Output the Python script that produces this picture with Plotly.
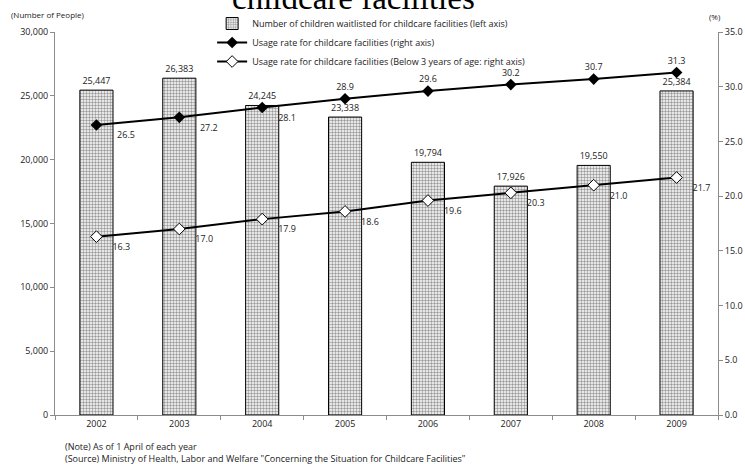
import plotly.graph_objects as go

years = ["2002", "2003", "2004", "2005", "2006", "2007", "2008", "2009"]
waitlisted = [25447, 26383, 24245, 23338, 19794, 17926, 19550, 25384]
usage_rate = [26.5, 27.2, 28.1, 28.9, 29.6, 30.2, 30.7, 31.3]
usage_rate_u3 = [16.3, 17.0, 17.9, 18.6, 19.6, 20.3, 21.0, 21.7]

name_bar = "Number of children waitlisted for childcare facilities (left axis)"
name_rate = "Usage rate for childcare facilities (right axis)"
name_u3 = "Usage rate for childcare facilities (Below 3 years of age: right axis)"

FONT = "Open Sans"
TXT = "#222222"
AX = "#8c8c8c"
NB = "\u00a0"

rate_pos = ["bottom right", "bottom right", "bottom right", "top center",
            "top center", "top center", "top center", "top center"]
rate_pad = [6, 6, 4, 0, 0, 0, 0, 0]

fig = go.Figure()
fig.add_trace(go.Bar(
    x=years, y=waitlisted, name=name_bar, width=0.4,
    marker=dict(color="white", line=dict(color="#000000", width=1),
                pattern=dict(shape=".", fgcolor="#333333", bgcolor="white", size=3, solidity=0.5)),
    text=[f"{v:,}" for v in waitlisted], textposition="outside",
    textfont=dict(family=FONT, size=9, color=TXT), cliponaxis=False,
))
fig.add_trace(go.Scatter(
    x=years, y=usage_rate, name=name_rate, yaxis="y2", mode="lines+markers+text",
    line=dict(color="black", width=2), marker=dict(symbol="diamond", size=9, color="black"),
    text=[NB * p + f"{v:.1f}" for v, p in zip(usage_rate, rate_pad)], textposition=rate_pos,
    textfont=dict(family=FONT, size=9, color=TXT), cliponaxis=False,
))
fig.add_trace(go.Scatter(
    x=years, y=usage_rate_u3, name=name_u3, yaxis="y2", mode="lines+markers+text",
    line=dict(color="black", width=2),
    marker=dict(symbol="diamond", size=9, color="white", line=dict(color="black", width=1)),
    text=[NB * 4 + f"{v:.1f}" for v in usage_rate_u3], textposition="bottom right",
    textfont=dict(family=FONT, size=9, color=TXT), cliponaxis=False,
))

fig.update_layout(
    width=745, height=464,
    margin=dict(l=55, r=27, t=32, b=49, autoexpand=False),
    paper_bgcolor="white", plot_bgcolor="white",
    font=dict(family=FONT, size=9, color=TXT),
    showlegend=True,
    legend=dict(x=0.237, y=1.06, xanchor="left", yanchor="top",
                font=dict(family=FONT, size=9, color=TXT),
                bgcolor="rgba(0,0,0,0)", tracegroupgap=0, itemwidth=30),
    xaxis=dict(showline=True, linecolor=AX, linewidth=1, ticks="outside",
               tickson="boundaries", ticklen=4, tickcolor=AX, automargin=False,
               tickfont=dict(family=FONT, size=9, color=TXT), showgrid=False),
    yaxis=dict(range=[0, 30000], dtick=5000, tickformat=",", showline=True,
               linecolor=AX, linewidth=1, ticks="outside", ticklen=4, tickcolor=AX,
               showgrid=False, zeroline=False, automargin=False,
               tickfont=dict(family=FONT, size=9, color=TXT)),
    yaxis2=dict(range=[0, 35], dtick=5, tickformat=".1f", overlaying="y", side="right",
                showline=True, linecolor=AX, linewidth=1, ticks="outside", ticklen=4,
                tickcolor=AX, showgrid=False, zeroline=False, automargin=False,
                tickfont=dict(family=FONT, size=9, color=TXT)),
    bargap=0.6,
)

fig.add_annotation(text="childcare facilities", xref="paper", yref="paper",
                   x=0.45, y=1.088, xanchor="center", yanchor="middle", showarrow=False,
                   font=dict(family="Liberation Serif", size=33, color="black"))
fig.add_annotation(text="(Number of People)", xref="paper", yref="paper",
                   x=-0.07, y=1.045, xanchor="left", yanchor="middle", showarrow=False,
                   font=dict(family=FONT, size=8, color=TXT))
fig.add_annotation(text="(%)", xref="paper", yref="paper",
                   x=0.983, y=1.04, xanchor="left", yanchor="middle", showarrow=False,
                   font=dict(family=FONT, size=8, color=TXT))
fig.add_annotation(text="(Note) As of 1 April of each year", xref="paper", yref="paper",
                   x=0.012, y=-0.081, xanchor="left", yanchor="middle", showarrow=False,
                   font=dict(family=FONT, size=9, color=TXT))
fig.add_annotation(text='(Source) Ministry of Health, Labor and Welfare "Concerning the Situation for Childcare Facilities"',
                   xref="paper", yref="paper",
                   x=0.012, y=-0.114, xanchor="left", yanchor="middle", showarrow=False,
                   font=dict(family=FONT, size=9, color=TXT))

fig.write_html("out.html")
